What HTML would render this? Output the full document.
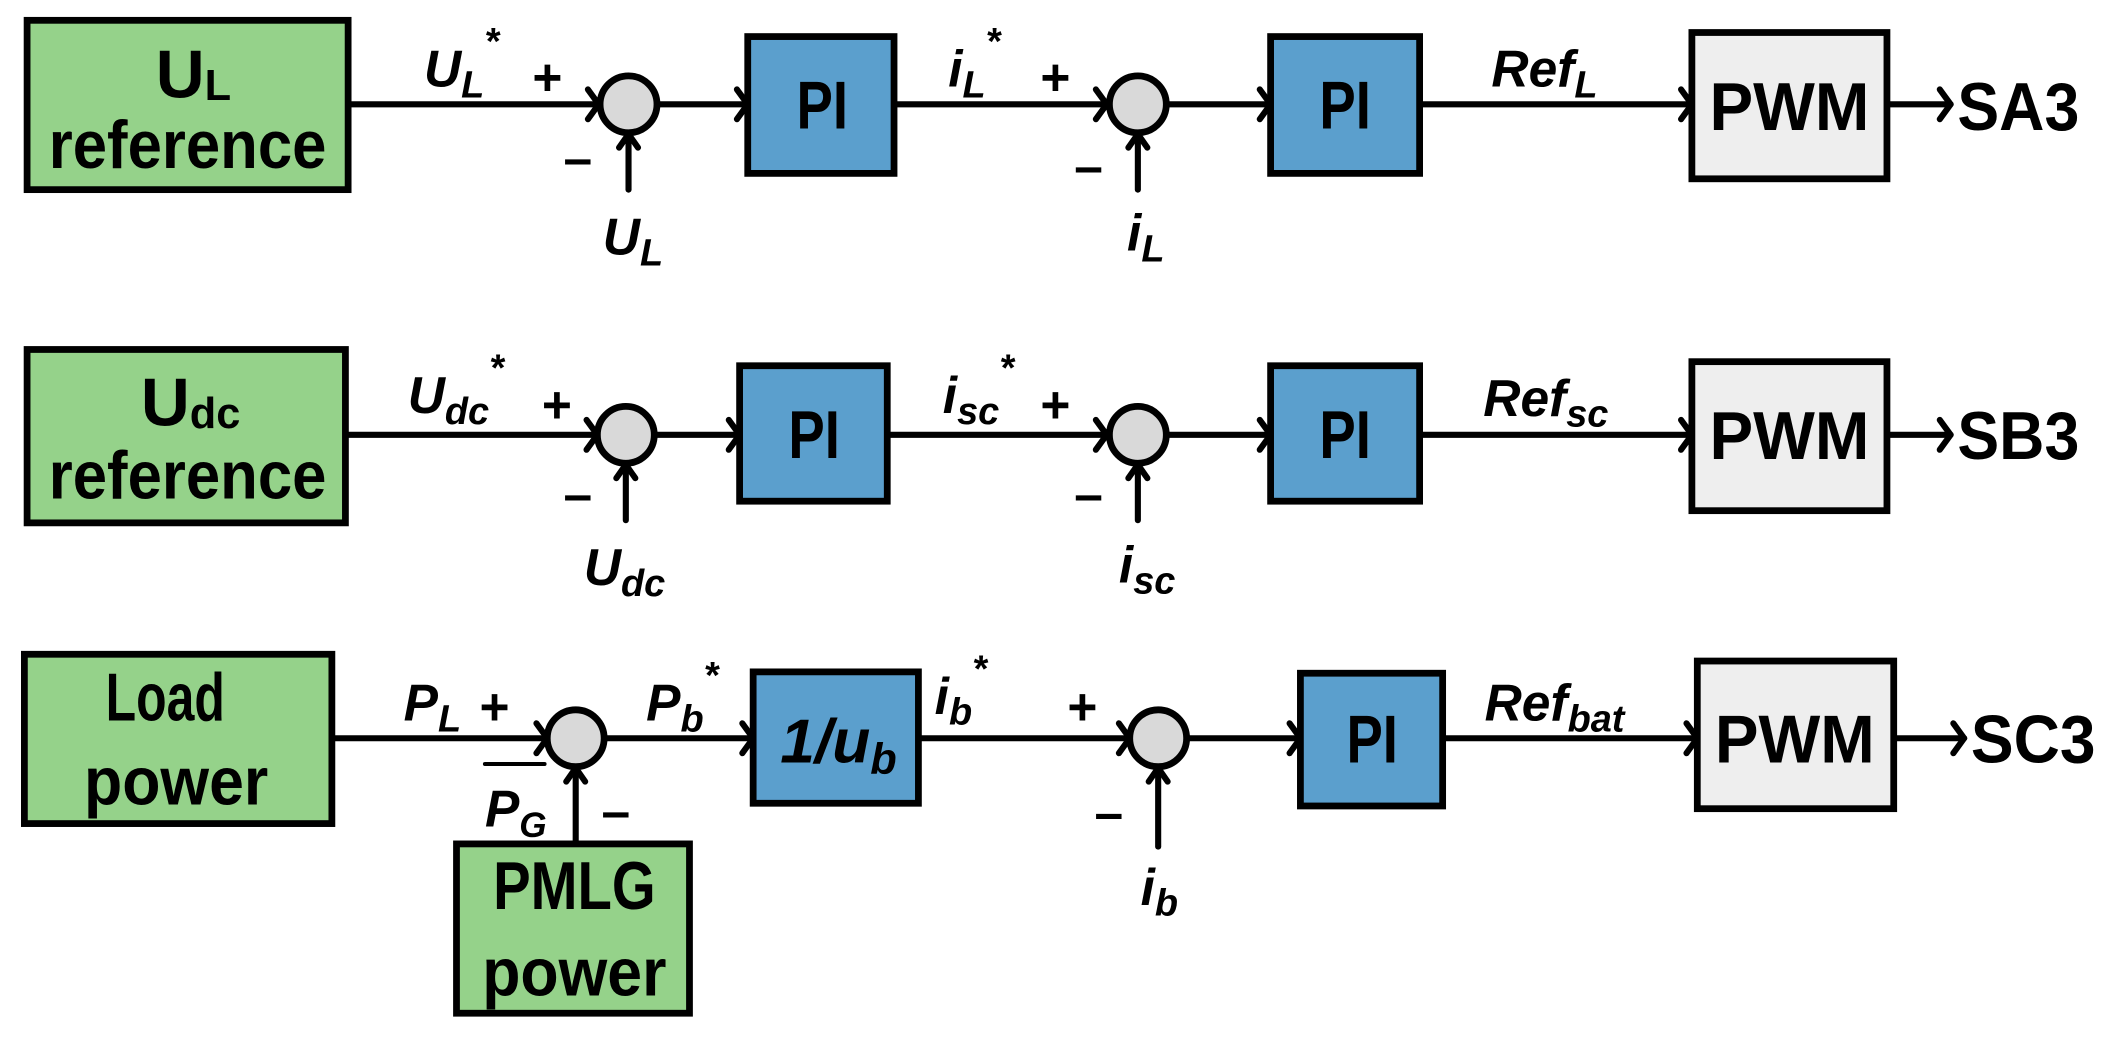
<!DOCTYPE html>
<html><head><meta charset="utf-8"><style>
html,body{margin:0;padding:0;background:#fff;}
svg{display:block;}
text{font-family:"Liberation Sans",sans-serif;font-weight:bold;fill:#000;}
.i{font-style:italic;}
</style></head><body>
<svg width="2124" height="1041" viewBox="0 0 1568 768.5" preserveAspectRatio="none" xmlns="http://www.w3.org/2000/svg">
<g stroke="#000" stroke-width="4.5" fill="none" stroke-linecap="round" stroke-linejoin="round">
<line x1="257" y1="77" x2="442" y2="77"/><polyline points="434,66 442,77 434,88"/>
<line x1="485" y1="77" x2="552" y2="77"/><polyline points="544,66 552,77 544,88"/>
<line x1="660" y1="77" x2="817" y2="77"/><polyline points="809,66 817,77 809,88"/>
<line x1="860" y1="77" x2="938" y2="77"/><polyline points="930,66 938,77 930,88"/>
<line x1="1048" y1="77" x2="1249" y2="77"/><polyline points="1241,66 1249,77 1241,88"/>
<line x1="1393" y1="77" x2="1440" y2="77"/><polyline points="1432,66 1440,77 1432,88"/>
<line x1="464" y1="140" x2="464" y2="99"/><polyline points="457,109 464,99 471,109"/>
<line x1="840" y1="140" x2="840" y2="99"/><polyline points="833,109 840,99 847,109"/>
<line x1="255" y1="321" x2="441" y2="321"/><polyline points="433,310 441,321 433,332"/>
<line x1="484" y1="321" x2="546" y2="321"/><polyline points="538,310 546,321 538,332"/>
<line x1="655" y1="321" x2="817" y2="321"/><polyline points="809,310 817,321 809,332"/>
<line x1="860" y1="321" x2="938" y2="321"/><polyline points="930,310 938,321 930,332"/>
<line x1="1048" y1="321" x2="1249" y2="321"/><polyline points="1241,310 1249,321 1241,332"/>
<line x1="1393" y1="321" x2="1440" y2="321"/><polyline points="1432,310 1440,321 1432,332"/>
<line x1="462" y1="384" x2="462" y2="343"/><polyline points="455,353 462,343 469,353"/>
<line x1="840" y1="384" x2="840" y2="343"/><polyline points="833,353 840,343 847,353"/>
<line x1="245" y1="545" x2="404" y2="545"/><polyline points="396,534 404,545 396,556"/>
<line x1="446" y1="545" x2="556" y2="545"/><polyline points="548,534 556,545 548,556"/>
<line x1="678" y1="545" x2="834" y2="545"/><polyline points="826,534 834,545 826,556"/>
<line x1="877" y1="545" x2="960" y2="545"/><polyline points="952,534 960,545 952,556"/>
<line x1="1065" y1="545" x2="1253" y2="545"/><polyline points="1245,534 1253,545 1245,556"/>
<line x1="1398" y1="545" x2="1450" y2="545"/><polyline points="1442,534 1450,545 1442,556"/>
<line x1="425" y1="622" x2="425" y2="567"/><polyline points="418,577 425,567 432,577"/>
<line x1="855" y1="625" x2="855" y2="567"/><polyline points="848,577 855,567 862,577"/>
<line x1="358" y1="564" x2="402" y2="564" stroke-width="3"/>
</g>
<g stroke="#000" stroke-width="5">
<rect x="20" y="15" width="237" height="125" fill="#95d28a"/>
<rect x="20" y="258" width="235" height="128" fill="#95d28a"/>
<rect x="18" y="483" width="227" height="125" fill="#95d28a"/>
<rect x="337" y="623" width="172" height="125" fill="#95d28a"/>
<rect x="552" y="27" width="108" height="101" fill="#5b9fcd"/>
<rect x="938" y="27" width="110" height="101" fill="#5b9fcd"/>
<rect x="546" y="270" width="109" height="100" fill="#5b9fcd"/>
<rect x="938" y="270" width="110" height="100" fill="#5b9fcd"/>
<rect x="556" y="496" width="122" height="97" fill="#5b9fcd"/>
<rect x="960" y="497" width="105" height="98" fill="#5b9fcd"/>
<rect x="1249" y="24" width="144" height="108" fill="#eeeeee"/>
<rect x="1249" y="267" width="144" height="110" fill="#eeeeee"/>
<rect x="1253" y="488" width="145" height="109" fill="#eeeeee"/>
<ellipse cx="464" cy="77" rx="21" ry="21" fill="#d9d9d9"/>
<ellipse cx="840" cy="77" rx="21" ry="21" fill="#d9d9d9"/>
<ellipse cx="462" cy="321" rx="21" ry="21" fill="#d9d9d9"/>
<ellipse cx="840" cy="321" rx="21" ry="21" fill="#d9d9d9"/>
<ellipse cx="425" cy="545" rx="21" ry="21" fill="#d9d9d9"/>
<ellipse cx="855" cy="545" rx="21" ry="21" fill="#d9d9d9"/>
</g>
<g font-size="50">
<text x="115" y="72">U<tspan font-size="32" dy="2">L</tspan></text>
<text x="36" y="124" textLength="205" lengthAdjust="spacingAndGlyphs">reference</text>
<text x="104" y="314">U<tspan font-size="32" dy="2">dc</tspan></text>
<text x="36" y="368" textLength="205" lengthAdjust="spacingAndGlyphs">reference</text>
<text x="78" y="532" textLength="88" lengthAdjust="spacingAndGlyphs">Load</text>
<text x="62" y="594" textLength="136" lengthAdjust="spacingAndGlyphs">power</text>
<text x="364" y="671" textLength="120" lengthAdjust="spacingAndGlyphs">PMLG</text>
<text x="356" y="735" textLength="136" lengthAdjust="spacingAndGlyphs">power</text>
<text x="588" y="95" textLength="38" lengthAdjust="spacingAndGlyphs">PI</text>
<text x="974" y="95" textLength="38" lengthAdjust="spacingAndGlyphs">PI</text>
<text x="582" y="338" textLength="38" lengthAdjust="spacingAndGlyphs">PI</text>
<text x="974" y="338" textLength="38" lengthAdjust="spacingAndGlyphs">PI</text>
<text x="994" y="563" textLength="38" lengthAdjust="spacingAndGlyphs">PI</text>
<text x="576" y="563" class="i" font-size="46">1/u<tspan font-size="32" dy="8">b</tspan></text>
<text x="1262" y="96" textLength="118" lengthAdjust="spacingAndGlyphs">PWM</text>
<text x="1262" y="339" textLength="118" lengthAdjust="spacingAndGlyphs">PWM</text>
<text x="1266" y="563" textLength="118" lengthAdjust="spacingAndGlyphs">PWM</text>
<text x="1445" y="96" textLength="90" lengthAdjust="spacingAndGlyphs">SA3</text>
<text x="1445" y="339" textLength="90" lengthAdjust="spacingAndGlyphs">SB3</text>
<text x="1455" y="563" textLength="92" lengthAdjust="spacingAndGlyphs">SC3</text>
</g>
<g font-size="38">
<text x="313" y="64" class="i">U<tspan font-size="28" dy="8">L</tspan><tspan font-size="28" dy="-32">*</tspan></text>
<text x="393" y="70">+</text>
<text x="416" y="130">–</text>
<text x="445" y="188" class="i">U<tspan font-size="28" dy="8">L</tspan></text>
<text x="700" y="64" class="i">i<tspan font-size="28" dy="8">L</tspan><tspan font-size="28" dy="-32">*</tspan></text>
<text x="768" y="70">+</text>
<text x="793" y="136">–</text>
<text x="832" y="185" class="i">i<tspan font-size="28" dy="8">L</tspan></text>
<text x="1101" y="64" class="i">Ref<tspan font-size="28" dy="8">L</tspan></text>
<text x="301" y="305" class="i">U<tspan font-size="28" dy="8">dc</tspan><tspan font-size="28" dy="-32">*</tspan></text>
<text x="400" y="312">+</text>
<text x="416" y="378">–</text>
<text x="431" y="432" class="i">U<tspan font-size="28" dy="8">dc</tspan></text>
<text x="696" y="305" class="i">i<tspan font-size="28" dy="8">sc</tspan><tspan font-size="28" dy="-32">*</tspan></text>
<text x="768" y="312">+</text>
<text x="793" y="378">–</text>
<text x="826" y="430" class="i">i<tspan font-size="28" dy="8">sc</tspan></text>
<text x="1095" y="307" class="i">Ref<tspan font-size="28" dy="8">sc</tspan></text>
<text x="298" y="532" class="i">P<tspan font-size="28" dy="8">L</tspan></text>
<text x="354" y="535">+</text>
<text x="358" y="610" class="i">P<tspan font-size="26" dy="8">G</tspan></text>
<text x="444" y="612">–</text>
<text x="477" y="532" class="i">P<tspan font-size="28" dy="8">b</tspan><tspan font-size="28" dy="-32">*</tspan></text>
<text x="690" y="527" class="i">i<tspan font-size="28" dy="8">b</tspan><tspan font-size="28" dy="-32">*</tspan></text>
<text x="788" y="535">+</text>
<text x="808" y="613">–</text>
<text x="842" y="668" class="i">i<tspan font-size="28" dy="8">b</tspan></text>
<text x="1096" y="532" class="i">Ref<tspan font-size="28" dy="8">bat</tspan></text>
</g>
</svg>
</body></html>
